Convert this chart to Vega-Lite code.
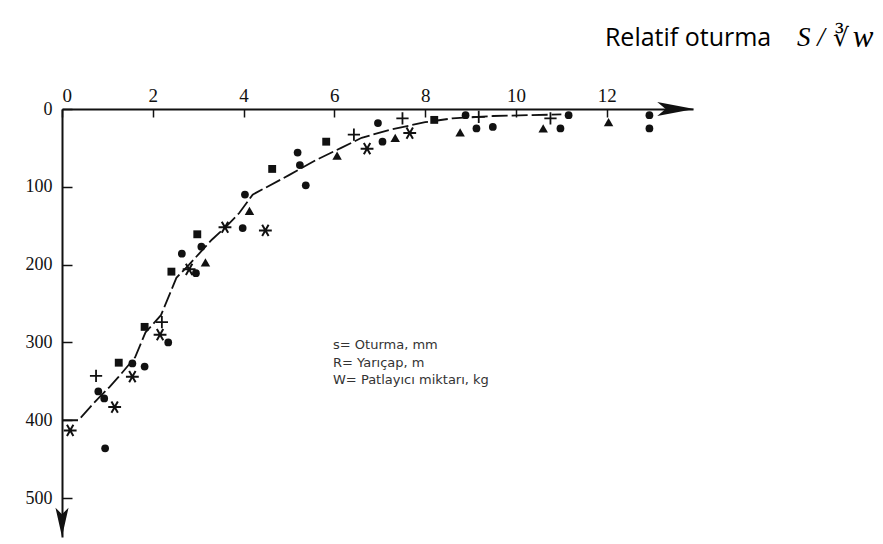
{
  "$schema": "https://vega.github.io/schema/vega-lite/v6.json",
  "width": 631,
  "height": 428,
  "autosize": {"type": "none"},
  "padding": {"left": 62, "top": 109, "right": 190, "bottom": 7},
  "background": "white",
  "config": {"view": {"stroke": null}},
  "datasets": {
    "curve": [
      {"r": 0, "s": 400}, {"r": 0.36, "s": 400}, {"r": 0.7, "s": 378}, {"r": 1.05, "s": 357},
      {"r": 1.25, "s": 344}, {"r": 1.61, "s": 319}, {"r": 1.84, "s": 287}, {"r": 2.18, "s": 265},
      {"r": 2.52, "s": 217}, {"r": 2.8, "s": 200}, {"r": 3.3, "s": 168}, {"r": 3.6, "s": 152},
      {"r": 3.9, "s": 134}, {"r": 4.2, "s": 110}, {"r": 5.0, "s": 85}, {"r": 5.58, "s": 66},
      {"r": 6.15, "s": 50}, {"r": 6.6, "s": 37}, {"r": 7.2, "s": 27}, {"r": 8.0, "s": 17},
      {"r": 8.6, "s": 12}, {"r": 9.5, "s": 9}, {"r": 11.0, "s": 7}
    ],
    "points": [
      {"r": 6.96, "s": 18, "type": "circle"}, {"r": 7.06, "s": 42, "type": "circle"},
      {"r": 5.19, "s": 56, "type": "circle"}, {"r": 5.24, "s": 72, "type": "circle"},
      {"r": 5.37, "s": 98, "type": "circle"}, {"r": 4.03, "s": 110, "type": "circle"},
      {"r": 3.98, "s": 153, "type": "circle"}, {"r": 3.07, "s": 177, "type": "circle"},
      {"r": 2.64, "s": 186, "type": "circle"}, {"r": 2.95, "s": 211, "type": "circle"},
      {"r": 2.34, "s": 300, "type": "circle"}, {"r": 1.55, "s": 327, "type": "circle"},
      {"r": 1.82, "s": 331, "type": "circle"}, {"r": 0.8, "s": 363, "type": "circle"},
      {"r": 0.93, "s": 372, "type": "circle"}, {"r": 0.95, "s": 436, "type": "circle"},
      {"r": 8.89, "s": 8, "type": "circle"}, {"r": 9.13, "s": 25, "type": "circle"},
      {"r": 9.49, "s": 23, "type": "circle"}, {"r": 10.98, "s": 25, "type": "circle"},
      {"r": 11.16, "s": 8, "type": "circle"}, {"r": 12.94, "s": 8, "type": "circle"},
      {"r": 12.94, "s": 25, "type": "circle"},
      {"r": 8.2, "s": 14, "type": "square"}, {"r": 5.82, "s": 42, "type": "square"},
      {"r": 4.63, "s": 77, "type": "square"}, {"r": 2.98, "s": 161, "type": "square"},
      {"r": 2.41, "s": 209, "type": "square"}, {"r": 1.82, "s": 280, "type": "square"},
      {"r": 1.25, "s": 326, "type": "square"},
      {"r": 6.06, "s": 60, "type": "triangle"}, {"r": 7.34, "s": 37, "type": "triangle"},
      {"r": 4.13, "s": 131, "type": "triangle"}, {"r": 3.16, "s": 197, "type": "triangle"},
      {"r": 8.77, "s": 30, "type": "triangle"}, {"r": 10.6, "s": 25, "type": "triangle"},
      {"r": 12.04, "s": 17, "type": "triangle"},
      {"r": 7.5, "s": 12, "type": "plus"}, {"r": 6.43, "s": 33, "type": "plus"},
      {"r": 2.2, "s": 274, "type": "plus"}, {"r": 0.75, "s": 343, "type": "plus"},
      {"r": 9.18, "s": 10, "type": "plus"}, {"r": 10.76, "s": 12, "type": "plus"},
      {"r": 6.72, "s": 51, "type": "star"}, {"r": 7.66, "s": 31, "type": "star"},
      {"r": 3.59, "s": 152, "type": "star"}, {"r": 4.48, "s": 156, "type": "star"},
      {"r": 2.8, "s": 206, "type": "star"}, {"r": 2.16, "s": 290, "type": "star"},
      {"r": 1.55, "s": 344, "type": "star"}, {"r": 1.16, "s": 383, "type": "star"},
      {"r": 0.18, "s": 413, "type": "star"}
    ],
    "arrows": [
      {"r": 13.52, "s": 0, "dir": "right"},
      {"r": 0, "s": 531, "dir": "down"}
    ],
    "notes": [
      {"r": 5.97, "s": 296, "text": "s= Oturma, mm\nR= Yarıçap, m\nW= Patlayıcı miktarı, kg"}
    ],
    "titles": [
      {"r": 11.96, "s": -91, "text": "Relatif oturma", "part": "words"},
      {"r": 16.19, "s": -91, "text": "S /", "part": "italic"},
      {"r": 16.98, "s": -91, "text": "∛", "part": "upright"},
      {"r": 17.42, "s": -91, "text": "w", "part": "w"}
    ]
  },
  "encoding": {
    "x": {"field": "r", "type": "quantitative",
      "scale": {"domain": [0, 13.9], "nice": false, "zero": false}},
    "y": {"field": "s", "type": "quantitative",
      "scale": {"domain": [0, 550], "nice": false, "reverse": true}}
  },
  "layer": [
    {
      "data": {"name": "curve"},
      "mark": {"type": "line", "color": "#111", "strokeWidth": 1.8, "strokeDash": [16, 4]},
      "encoding": {
        "x": {"field": "r", "type": "quantitative",
          "axis": {"orient": "top", "values": [0, 2, 4, 6, 8, 10, 12], "title": null, "grid": false,
            "domainColor": "#111", "domainWidth": 2, "tickColor": "#111", "tickWidth": 1.5,
            "tickSize": -8, "labelFont": "Liberation Serif", "labelFontSize": 19,
            "labelColor": "#111", "labelPadding": 12}},
        "y": {"field": "s", "type": "quantitative",
          "axis": {"orient": "left", "values": [0, 100, 200, 300, 400, 500], "title": null, "grid": false,
            "domainColor": "#111", "domainWidth": 2, "tickColor": "#111", "tickWidth": 1.5,
            "tickSize": -10, "labelFont": "Liberation Serif", "labelFontSize": 18,
            "labelColor": "#111", "labelPadding": 20}}
      }
    },
    {
      "data": {"name": "points"},
      "transform": [{"filter": "datum.type == 'circle'"}],
      "mark": {"type": "point", "shape": "circle", "filled": true, "color": "#111", "size": 60, "opacity": 1}
    },
    {
      "data": {"name": "points"},
      "transform": [{"filter": "datum.type == 'square'"}],
      "mark": {"type": "point", "shape": "square", "filled": true, "color": "#111", "size": 62, "opacity": 1}
    },
    {
      "data": {"name": "points"},
      "transform": [{"filter": "datum.type == 'triangle'"}],
      "mark": {"type": "point", "shape": "triangle-up", "filled": true, "color": "#111", "size": 90, "opacity": 1}
    },
    {
      "data": {"name": "points"},
      "transform": [{"filter": "datum.type == 'plus'"}],
      "mark": {"type": "point", "shape": "M-1,0L1,0M0,-1L0,1", "filled": false, "color": "#111",
        "strokeWidth": 1.8, "size": 150, "opacity": 1}
    },
    {
      "data": {"name": "points"},
      "transform": [{"filter": "datum.type == 'star'"}],
      "mark": {"type": "point", "shape": "M-1,0L1,0M-0.5,-0.87L0.5,0.87M-0.5,0.87L0.5,-0.87", "filled": false,
        "color": "#111", "strokeWidth": 2, "size": 165, "opacity": 1}
    },
    {
      "data": {"name": "arrows"},
      "transform": [{"filter": "datum.dir == 'right'"}],
      "mark": {"type": "point", "shape": "M-1,-0.38L1,0L-1,0.38L-0.55,0Z", "filled": true,
        "color": "#111", "size": 1369, "opacity": 1, "clip": false}
    },
    {
      "data": {"name": "arrows"},
      "transform": [{"filter": "datum.dir == 'down'"}],
      "mark": {"type": "point", "shape": "M-0.45,-1L0,1L0.45,-1L0,-0.55Z", "filled": true,
        "color": "#111", "size": 841, "opacity": 1, "clip": false}
    },
    {
      "data": {"name": "notes"},
      "mark": {"type": "text", "align": "left", "baseline": "top", "lineBreak": "\n",
        "font": "DejaVu Sans", "fontSize": 13, "lineHeight": 17.5, "color": "#333"},
      "encoding": {"text": {"field": "text"}}
    },
    {
      "data": {"name": "titles"},
      "transform": [{"filter": "datum.part == 'words'"}],
      "mark": {"type": "text", "align": "left", "baseline": "middle", "clip": false,
        "font": "Open Sans", "fontSize": 25, "color": "#000"},
      "encoding": {"text": {"field": "text"}}
    },
    {
      "data": {"name": "titles"},
      "transform": [{"filter": "datum.part == 'italic'"}],
      "mark": {"type": "text", "align": "left", "baseline": "middle", "clip": false,
        "font": "Liberation Serif", "fontStyle": "italic", "fontSize": 27, "color": "#000"},
      "encoding": {"text": {"field": "text"}}
    },
    {
      "data": {"name": "titles"},
      "transform": [{"filter": "datum.part == 'upright'"}],
      "mark": {"type": "text", "align": "left", "baseline": "middle", "clip": false,
        "font": "DejaVu Serif", "fontSize": 25, "color": "#000"},
      "encoding": {"text": {"field": "text"}}
    },
    {
      "data": {"name": "titles"},
      "transform": [{"filter": "datum.part == 'w'"}],
      "mark": {"type": "text", "align": "left", "baseline": "middle", "clip": false,
        "font": "Liberation Serif", "fontStyle": "italic", "fontSize": 31, "color": "#000"},
      "encoding": {"text": {"field": "text"}}
    }
  ]
}
